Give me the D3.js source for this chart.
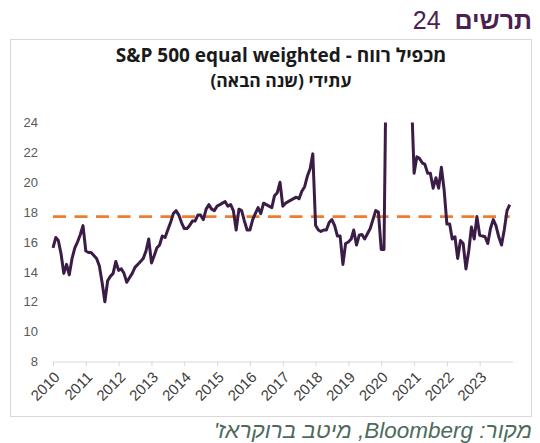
<!DOCTYPE html>
<html>
<head>
<meta charset="utf-8">
<script src="https://cdn.jsdelivr.net/npm/d3@7"></script>
<style>
  body { margin: 0; background: #fff; }
  svg { display: block; }
  .tick text { font-family: "Liberation Sans", Arial, sans-serif; fill: #595959; }
  .xlabel { font-family: "Liberation Sans", Arial, sans-serif; fill: #404040; }
</style>
</head>
<body>
<div id="chart"></div>
<script>
// forward P/E, S&P 500 equal weighted, monthly from Jan 2010
const peValues = [
  15.6, 16.3, 16.1, 15.2, 13.9, 14.5, 13.8, 14.9, 15.6, 16.0, 16.5, 17.1,
  15.4, 15.3, 15.3, 15.1, 14.9, 14.4, 13.3, 12.0, 13.4, 13.7, 13.9, 14.7,
  14.1, 14.2, 13.9, 13.3, 13.6, 13.9, 14.3, 14.5, 14.7, 14.9, 15.4, 16.2,
  14.6, 15.1, 15.6, 15.8, 16.4, 16.3, 16.8, 17.3, 17.9, 18.1, 17.8, 17.3,
  16.9, 16.9, 17.1, 17.4, 17.4, 17.8, 17.8, 17.5, 18.2, 18.5, 18.2, 18.1,
  18.4, 18.5, 18.6, 18.7, 18.4, 18.5, 18.1, 16.8, 18.2, 18.1, 17.4, 16.8,
  16.8, 17.5, 17.9, 18.3, 17.9, 18.6, 18.5, 18.4, 18.3, 19.1, 19.3, 20.0,
  18.4, 18.6, 18.7, 18.8, 18.9, 19.0, 18.9, 19.4, 19.7, 20.4, 20.9, 21.9,
  17.1, 16.8, 16.7, 16.8, 16.8, 17.3, 17.5, 17.1, 16.4, 16.4, 14.5, 15.9,
  16.0, 16.2, 16.8, 15.8, 16.45, 16.5, 16.2, 16.55, 16.9, 17.5, 18.1, 18.0,
  15.5, 15.5, 30.5, 34.0, 33.0, 31.0, 30.0, 29.0, 28.0, 27.5, 27.0, 26.0,
  20.6, 21.7, 21.6, 21.3, 21.2, 20.6, 20.6, 19.6, 20.3, 19.6, 21.0, 19.5,
  17.2, 17.2, 16.2, 16.35, 14.9, 16.1, 15.9, 14.2, 15.4, 17.0, 16.2, 17.7,
  16.45, 16.4, 16.35, 15.9, 16.9, 17.5, 17.1, 16.35, 15.8, 16.8, 18.1, 18.5
];
const avgPE = 17.7;
const years = [2010, 2011, 2012, 2013, 2014, 2015, 2016, 2017, 2018, 2019, 2020, 2021, 2022, 2023];
const yTicks = [8, 10, 12, 14, 16, 18, 20, 22, 24];

const width = 540,
      height = 443;

const svg = d3.select('#chart')
  .append('svg')
  .attr('width', width)
  .attr('height', height);

// heading above the frame
const head = svg.append('text')
  .attr('x', 532)
  .attr('y', 29)
  .attr('text-anchor', 'end')
  .style('font-family', '"Liberation Sans", Arial, sans-serif')
  .style('font-size', '25px')
  .style('fill', '#4b1f50');
head.append('tspan').text('24 ');
head.append('tspan').style('font-weight', 'bold').text('\u00a0תרשים');

// chart frame
svg.append('rect')
  .attr('x', 10.5)
  .attr('y', 39.5)
  .attr('width', 521)
  .attr('height', 377)
  .attr('fill', '#fff')
  .attr('stroke', '#d9d9d9');

// chart title, two lines
svg.append('text')
  .attr('x', 281)
  .attr('y', 62)
  .attr('text-anchor', 'middle')
  .style('font-family', '"Open Sans", "DejaVu Sans", sans-serif')
  .style('font-weight', 'bold')
  .style('font-size', '19px')
  .style('fill', '#1a1a1a')
  .text('S&P 500 equal weighted - מכפיל רווח');

svg.append('text')
  .attr('x', 281)
  .attr('y', 87)
  .attr('text-anchor', 'middle')
  .attr('direction', 'rtl')
  .style('font-family', '"Open Sans", "DejaVu Sans", sans-serif')
  .style('font-weight', 'bold')
  .style('font-size', '17.5px')
  .style('fill', '#1a1a1a')
  .text('עתידי (שנה הבאה)');

// scales
const dates = peValues.map((v, i) => new Date(2010, i, 1));

const x = d3.scaleTime()
  .domain([new Date(2010, 0, 1), new Date(2024, 0, 1)])
  .range([53, 512.5]);

const y = d3.scaleLinear()
  .domain([8, 24])
  .range([361.5, 122.5]);

// x axis, with slanted year labels drawn separately
const xAxis = svg.append('g')
  .attr('transform', 'translate(0,' + y(8) + ')')
  .call(
    d3.axisBottom(x)
      .tickValues(years.map(yr => new Date(yr, 0, 1)))
      .tickFormat('')
      .tickSize(5)
      .tickSizeOuter(0)
  );
xAxis.select('.domain').attr('stroke', '#d9d9d9');
xAxis.selectAll('.tick line').attr('stroke', '#d9d9d9');

svg.append('g')
  .selectAll('g')
  .data(years)
  .enter()
  .append('g')
  .attr('transform', yr => 'translate(' + (x(new Date(yr, 0, 1)) + 4) + ',' + (y(8) + 13) + ') rotate(-45)')
  .append('text')
  .attr('class', 'xlabel')
  .attr('text-anchor', 'end')
  .attr('dy', '0.35em')
  .style('font-size', '15px')
  .text(yr => yr);

// y axis, labels only
const yAxis = svg.append('g')
  .attr('transform', 'translate(53,0)')
  .call(
    d3.axisLeft(y)
      .tickValues(yTicks)
      .tickSize(0)
      .tickPadding(15)
  );
yAxis.select('.domain').remove();
yAxis.selectAll('.tick text').style('font-size', '13px');

// clip at the top of the value range
svg.append('clipPath')
  .attr('id', 'plotClip')
  .append('rect')
  .attr('x', 40)
  .attr('y', y(24))
  .attr('width', 490)
  .attr('height', y(8) - y(24) + 10);

// average line
svg.append('line')
  .attr('x1', x(dates[0]))
  .attr('x2', x(dates[dates.length - 1]))
  .attr('y1', y(avgPE))
  .attr('y2', y(avgPE))
  .attr('stroke', '#ed7d31')
  .attr('stroke-width', 2.6)
  .attr('stroke-dasharray', '13,8.5');

// P/E line
const line = d3.line()
  .x((d, i) => x(dates[i]))
  .y(d => y(d));

svg.append('path')
  .datum(peValues)
  .attr('clip-path', 'url(#plotClip)')
  .attr('fill', 'none')
  .attr('stroke', '#3b1c47')
  .attr('stroke-width', 3)
  .attr('stroke-linejoin', 'round')
  .attr('d', line);

// source
svg.append('text')
  .attr('x', 532)
  .attr('y', 438)
  .attr('text-anchor', 'start')
  .attr('direction', 'rtl')
  .style('font-family', '"Liberation Sans", Arial, sans-serif')
  .style('font-style', 'italic')
  .style('font-size', '22.5px')
  .style('fill', '#4d6b5c')
  .text("מקור: Bloomberg, מיטב ברוקראז'");
</script>
</body>
</html>
